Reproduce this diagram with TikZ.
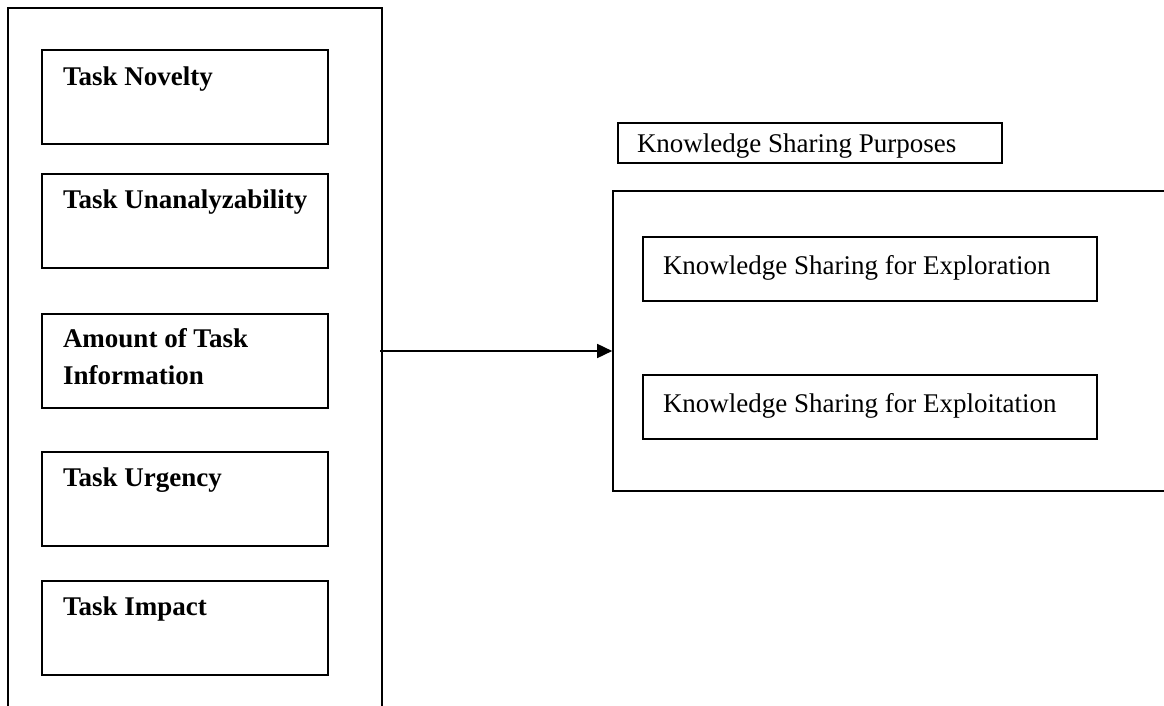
\documentclass[tikz,border=0pt]{standalone}
\usepackage{fontspec}
\setmainfont{Liberation Serif}
\usetikzlibrary{arrows.meta}

\begin{document}
\begin{tikzpicture}[x=0.5pt,y=-0.5pt,line width=0.8pt]
	\useasboundingbox (0,0) rectangle (1164,706);
	\clip (0,0) rectangle (1164,706);
	
	\tikzstyle{box}=[draw,shape=rectangle,inner sep=0pt]
	
	\tikzstyle{taskBox}=[box,minimum width=143pt,minimum height=47pt]
	
	\tikzstyle{purposeBox}=[box,minimum width=227pt,minimum height=32pt]
	
	\tikzstyle{txt}=[inner sep=0pt,anchor=base west,align=left,font=\fontsize{13.5}{18.5}\selectfont]
	
	% left side: task characteristics
	\node[box,minimum width=187pt,minimum height=376pt](taskFrame) at (195,384){};
	
	\node[taskBox](novelty) at (185,97){};
	\node[taskBox](unanalyz) at (185,221){};
	\node[taskBox](amountInfo) at (185,361){};
	\node[taskBox](urgency) at (185,499){};
	\node[taskBox](impact) at (185,628){};
	
	\node[txt,font=\fontsize{13.5}{18.5}\selectfont\bfseries](noveltyText) at ([shift={(21,36)}]novelty.north west){Task Novelty};
	\node[txt,font=\fontsize{13.5}{18.5}\selectfont\bfseries](unanalyzText) at ([shift={(21,35)}]unanalyz.north west){Task Unanalyzability};
	\node[txt,font=\fontsize{13.5}{18.5}\selectfont\bfseries](amountText) at ([shift={(21,71)}]amountInfo.north west){Amount of Task\\Information};
	\node[txt,font=\fontsize{13.5}{18.5}\selectfont\bfseries](urgencyText) at ([shift={(21,35)}]urgency.north west){Task Urgency};
	\node[txt,font=\fontsize{13.5}{18.5}\selectfont\bfseries](impactText) at ([shift={(21,35)}]impact.north west){Task Impact};
	
	% right side: purposes
	\node[box,minimum width=192pt,minimum height=20pt](purposeTitle) at (810,143){};
	\node[txt](purposeTitleText) at ([shift={(19,30)}]purposeTitle.north west){Knowledge Sharing Purposes};
	
	\node[box,minimum width=294pt,minimum height=150pt](purposeFrame) at (907,341){};
	
	\node[purposeBox](exploration) at (870,269){};
	\node[purposeBox](exploitation) at (870,407){};
	
	\node[txt](explorationText) at ([shift={(20,38)}]exploration.north west){Knowledge Sharing for Exploration};
	\node[txt](exploitationText) at ([shift={(20,38)}]exploitation.north west){Knowledge Sharing for Exploitation};
	
	\coordinate(from) at (380,351);
	\draw[-{Triangle[length=7.5pt,width=7pt]}] (from) -- (purposeFrame.west |- from);
	
\end{tikzpicture}
\end{document}
